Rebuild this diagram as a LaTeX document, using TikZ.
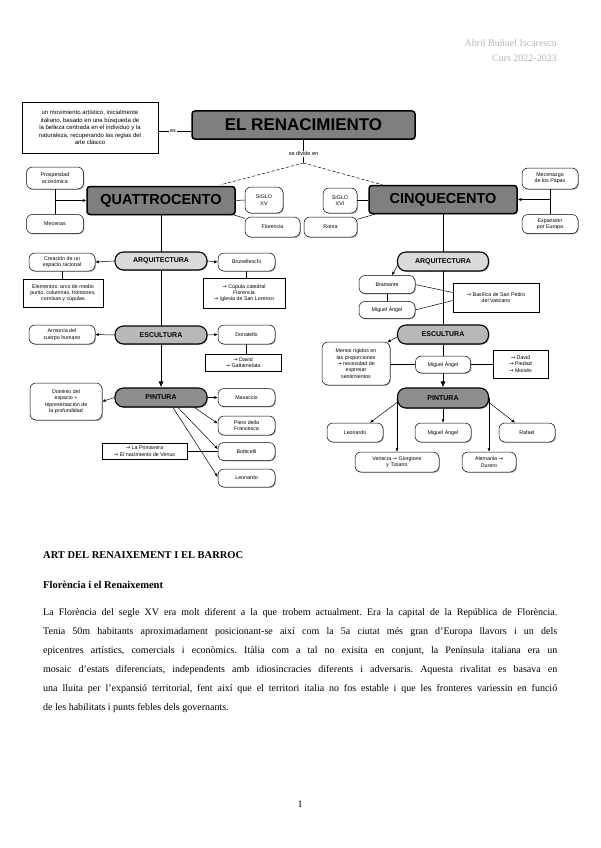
\documentclass[tikz,border=0pt]{standalone}
\usepackage{fontspec}
\setmainfont{Liberation Serif}
\newfontfamily\dg{Liberation Sans}
\newfontfamily\dvs{DejaVu Sans}
\newcommand\myarr{{\dvs →}}
\frenchspacing
\usetikzlibrary{arrows.meta,shadows,backgrounds,calc}
\definecolor{bigc}{HTML}{7F7F7F}
\definecolor{arqc}{HTML}{DADADA}
\definecolor{escc}{HTML}{B8B8B8}
\definecolor{pinc}{HTML}{8E8E8E}
\definecolor{hdr}{HTML}{B5B5B5}
\begin{document}
\begin{tikzpicture}[x=1pt,y=-1pt,
  box/.style={draw, line width=0.5pt, fill=white, align=center, inner sep=1pt,
    font=\dg\fontsize{5.3}{6.3}\selectfont,
    drop shadow={shadow xshift=0.9pt, shadow yshift=-0.9pt, opacity=0.3, fill=black}},
  pill/.style={box, rounded corners=6pt},
  rbox/.style={box},
  cat/.style={box, rounded corners=8.5pt, line width=1.1pt, font=\dg\bfseries\fontsize{7}{8}\selectfont},
  big/.style={box, rounded corners=3pt, line width=1.5pt, fill=bigc},
  con/.style={line width=0.5pt},
  arr/.style={con, -{Latex[length=3.5pt,width=3pt]}},
  trunk/.style={line width=0.9pt},
  tarr/.style={trunk, -{Latex[length=6pt,width=5pt]}},
  lbl/.style={font=\dg\fontsize{5.5}{6.5}\selectfont, inner sep=1pt},
  bodyline/.style={anchor=base west, inner sep=0pt, font=\fontsize{10}{12}\selectfont},
  head/.style={anchor=base west, inner sep=0pt, font=\bfseries\fontsize{10.5}{12}\selectfont},
  hdrtext/.style={anchor=base east, inner sep=0pt, text=hdr, font=\fontsize{10}{12}\selectfont}
]
\useasboundingbox (0,0) rectangle (600,848);

% header
\node[hdrtext] (au) at (557,46.5) {Abril Buñuel Iscarescu};
\node[hdrtext] (cu) at (557,61.5) {Curs 2022-2023};

% top
\node[rbox, minimum width=136pt, minimum height=51pt, font=\dg\fontsize{6}{7.6}\selectfont] (desc) at (90,127.5)
  {un movimiento artístico, inicialmente\\italiano, basado en una búsqueda de\\la belleza centrada en el individuo y la\\naturaleza, recuperando las reglas del\\arte clásico};
\node[big, minimum width=223pt, minimum height=28pt, font=\dg\bfseries\fontsize{17}{19}\selectfont] (ren) at (303.5,125) {EL RENACIMIENTO};
\node[lbl] (es) at (173,131) {es};
\node[lbl] (sediv) at (303.5,154) {se divide en};
\coordinate (split) at (303.5,163);

\node[big, minimum width=148pt, minimum height=28pt, font=\dg\bfseries\fontsize{14.5}{16}\selectfont] (quat) at (161,200.5) {QUATTROCENTO};
\node[big, minimum width=148pt, minimum height=28pt, font=\dg\bfseries\fontsize{14.5}{16}\selectfont] (cinq) at (443,199.5) {CINQUECENTO};

\node[pill, minimum width=57pt, minimum height=22pt] (pros) at (55,178) {Prosperidad\\económica};
\node[pill, minimum width=57pt, minimum height=19pt] (mec) at (55,224) {Mecenas};
\node[pill, minimum width=38pt, minimum height=26pt] (sxv) at (264,200) {SIGLO\\XV};
\node[pill, minimum width=55pt, minimum height=20pt] (flo) at (272.5,227) {Florencia};
\node[pill, minimum width=53pt, minimum height=20pt] (roma) at (330.5,227) {Roma};
\node[pill, minimum width=34pt, minimum height=25pt] (sxvi) at (340,200.5) {SIGLO\\XVI};
\node[pill, minimum width=56pt, minimum height=21pt] (mecp) at (550,178.5) {Mecenazgo\\de los Papas};
\node[pill, minimum width=56pt, minimum height=19pt] (exp) at (550,224) {Expansión\\por Europa};

% left branch
\node[cat, fill=arqc, minimum width=92pt, minimum height=18pt] (arqL) at (161,261) {ARQUITECTURA};
\node[pill, minimum width=66pt, minimum height=18pt] (creac) at (62,262) {Creación de un\\espacio racional};
\node[rbox, minimum width=80pt, minimum height=28pt] (elem) at (63,293) {Elementos: arco de medio\\punto, columnas, frontones,\\cornisas y cúpulas};
\node[pill, minimum width=57pt, minimum height=18pt] (brun) at (246.5,262) {Brunelleschi};
\node[rbox, minimum width=82pt, minimum height=30pt] (brunw) at (244,293) {\myarr{} Cúpula catedral\\Florencia\\\myarr{} Iglesia de San Lorenzo};

\node[cat, fill=escc, minimum width=92pt, minimum height=18pt] (escL) at (161,335) {ESCULTURA};
\node[pill, minimum width=66pt, minimum height=19pt] (armo) at (62,334.5) {Armonía del\\cuerpo humano};
\node[pill, minimum width=57pt, minimum height=19pt] (don) at (246.5,334.5) {Donatello};
\node[rbox, minimum width=76pt, minimum height=17pt] (donw) at (243,362.5) {\myarr{} David\\\myarr{} Gattamelata};

\node[cat, fill=pinc, minimum width=92pt, minimum height=19pt] (pinL) at (161,397.5) {PINTURA};
\node[pill, minimum width=72pt, minimum height=37pt] (domi) at (66,401.5) {Dominio del\\espacio +\\representación de\\la profundidad};
\node[pill, minimum width=57pt, minimum height=18pt] (masa) at (246.5,397.5) {Masaccio};
\node[pill, minimum width=57pt, minimum height=19pt] (piero) at (246.5,425.5) {Piero della\\Francesca};
\node[pill, minimum width=57pt, minimum height=18pt] (botti) at (246.5,451.5) {Botticelli};
\node[pill, minimum width=57pt, minimum height=18pt] (leoL) at (246.5,478) {Leonardo};
\node[rbox, minimum width=85pt, minimum height=16pt] (prim) at (144.5,451) {\myarr{} La Primavera\\\myarr{} El nacimiento de Venus};

% right branch
\node[cat, fill=arqc, minimum width=91pt, minimum height=19pt] (arqR) at (443,261.5) {ARQUITECTURA};
\node[pill, minimum width=56pt, minimum height=18pt] (bram) at (387,284.5) {Bramante};
\node[pill, minimum width=56pt, minimum height=17pt] (miga) at (387,310) {Miguel Ángel};
\node[rbox, minimum width=86pt, minimum height=29pt] (basi) at (496,297.5) {\myarr{} Basílica de San Pedro\\del Vaticano};

\node[cat, fill=escc, minimum width=91pt, minimum height=19pt] (escR) at (443,334.5) {ESCULTURA};
\node[pill, minimum width=68pt, minimum height=43pt] (menos) at (356,363.5) {Menos rígidos en\\las proporciones\\\myarr{} necesidad de\\expresar\\sentimientos};
\node[pill, minimum width=55pt, minimum height=17pt] (migs) at (443,364.5) {Miguel Ángel};
\node[rbox, minimum width=55pt, minimum height=28pt] (migsw) at (520.5,364) {\myarr{} David\\\myarr{} Piedad\\\myarr{} Moisés};

\node[cat, fill=pinc, minimum width=91pt, minimum height=20pt] (pinR) at (443,398) {PINTURA};
\node[pill, minimum width=56pt, minimum height=19pt] (leoR) at (355,432.5) {Leonardo};
\node[pill, minimum width=56pt, minimum height=19pt] (migp) at (443,432.5) {Miguel Ángel};
\node[pill, minimum width=56pt, minimum height=19pt] (rafa) at (527,432.5) {Rafael};
\node[pill, minimum width=84pt, minimum height=20pt] (vene) at (397,462) {Venecia \myarr{} Giorgione\\y Tiziano};
\node[pill, minimum width=54pt, minimum height=20pt] (alem) at (489,462) {Alemania \myarr\\Durero};

% connectors
\begin{pgfonlayer}{background}
\draw[con] (desc.east |- es) -- (es) (es) -- (ren.west |- es);
\draw[con] (ren.south) -- (sediv.north) (sediv.south) -- (split);
\draw[con, dash pattern=on 3pt off 2pt] (split) -- ($(quat.north east)+(-15,-1)$);
\draw[con, dash pattern=on 3pt off 2pt] (split) -- ($(cinq.north west)+(14,0)$);
\draw[con] (pros) -- (mec);
\draw[arr] (pros.south |- quat.west) -- (quat.west);
\draw[con] (mecp) -- (exp);
\draw[arr] (mecp.south |- cinq.east) -- (cinq.east);
\draw[con] (quat.east) -- (sxv.west);
\draw[con] (sxvi.east) -- (cinq.west |- sxvi.east);
\draw[con] ($(quat.south east)+(-4,-1)$) -- (flo);
\draw[con] (roma) -- ($(cinq.south west)+(10,-1)$);

% left
\draw[tarr] (quat.south) -- (pinL.north);
\draw[arr] (arqL.west) -- (creac.east);
\draw[con] (creac) -- (creac |- elem.north);
\draw[arr] (arqL.east) -- (brun.west);
\draw[con] (brun) -- (brun |- brunw.north);
\draw[arr] (escL.west) -- (armo.east);
\draw[arr] (escL.east) -- (don.west);
\draw[con] (don) -- (don |- donw.north);
\draw[arr] (pinL.west) -- (domi.east);
\draw[arr] (pinL.east) -- (masa.west);
\draw[arr] ($(pinL.south)+(32,-1)$) -- ($(piero.west)+(0,-2)$);
\draw[arr] ($(pinL.south)+(17,0)$) -- ($(botti.west)+(0,-2.5)$);
\draw[arr] ($(pinL.south)+(12,0)$) -- ($(leoL.west)+(0,-1)$);
\draw[con] (prim.east) -- (botti.west |- prim.east);

% right
\draw[trunk] (cinq.south) -- (escR.north);
\draw[trunk] (escR.south) -- (migs.north);
\draw[tarr] (migs.south) -- (pinR.north);
\draw[arr] ($(arqR.west)+(1,3)$) -- ($(bram.north)+(5,0)$);
\draw[con] (bram) -- (miga);
\draw[con] (bram.east) -- ($(basi.west)+(0,-5)$);
\draw[con] (miga.east) -- ($(basi.west)+(0,3)$);
\draw[arr] ($(escR.west)+(1,2)$) -- ($(menos.north east)+(-3,0.5)$);
\draw[con] (menos.east |- migs) -- (migs.west);
\draw[con] (migs.east) -- (migsw.west |- migs.east);
\draw[arr] ($(pinR.west)+(2,3)$) -- ($(leoR.north)+(15,0)$);
\draw[arr] (vene.north |- pinR.center) -- (vene.north);
\draw[arr] (pinR.south) -- (migp.north);
\draw[arr] (alem.north |- pinR.center) -- (alem.north);
\draw[arr] ($(pinR.east)+(-2,3)$) -- ($(rafa.north)+(-12,0)$);
\end{pgfonlayer}

% body text
\node[head] (h1) at (43,558.3) {ART DEL RENAIXEMENT I EL BARROC};
\node[head] (h2) at (43,588) {Florència i el Renaixement};
\node[bodyline] (l1) at (43,615) {\makebox[514pt][s]{La Florència del segle XV era molt diferent a la que trobem actualment. Era la capital de la República de Florència.}};
\node[bodyline] (l2) at (43,634) {\makebox[514pt][s]{Tenia 50m habitants aproximadament posicionant-se així com la 5a ciutat més gran d’Europa llavors i un dels}};
\node[bodyline] (l3) at (43,653) {\makebox[514pt][s]{epicentres artístics, comercials i econòmics. Itàlia com a tal no exisita en conjunt, la Península italiana era un}};
\node[bodyline] (l4) at (43,672) {\makebox[514pt][s]{mosaic d’estats diferenciats, independents amb idiosincracies diferents i adversaris. Aquesta rivalitat es basava en}};
\node[bodyline] (l5) at (43,691) {\makebox[514pt][s]{una lluita per l’expansió territorial, fent així que el territori italia no fos estable i que les fronteres variessin en funció}};
\node[bodyline] (l6) at (43,710) {de les habilitats i punts febles dels governants.};
\node[bodyline, anchor=base] (pg) at (300,807.5) {1};
\end{tikzpicture}
\end{document}
